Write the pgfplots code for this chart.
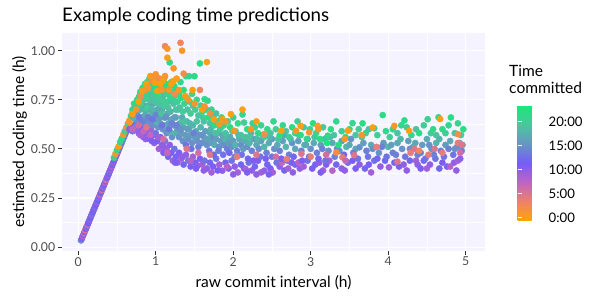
\documentclass[border=0pt]{standalone}
\usepackage{fontspec}
\setmainfont{Lato}
\usepackage{pgfplots}
\pgfplotsset{compat=1.18}
\definecolor{panelbg}{RGB}{245,243,255}
\definecolor{tickc}{RGB}{51,51,51}
\definecolor{ticklab}{RGB}{77,77,77}
\pgfplotsset{
  pts/.style={scatter, only marks, mark=*, mark size=3.1bp,
    scatter src=explicit,
    scatter/use mapped color={draw=mapped color, fill=mapped color}},
}
\begin{document}
\begin{tikzpicture}
\path[use as bounding box] (0,0) rectangle (600bp,300bp);
\begin{axis}[
  at={(62bp,49bp)}, anchor=south west,
  scale only axis, width=423bp, height=218bp,
  xmin=-0.21, xmax=5.25, ymin=-0.02, ymax=1.09,
  axis background/.style={fill=panelbg},
  axis line style={draw=none},
  xtick={0,1,2,3,4,5},
  ytick={0,0.25,0.5,0.75,1},
  yticklabels={0.00,0.25,0.50,0.75,1.00},
  minor xtick={0.5,1.5,2.5,3.5,4.5},
  minor ytick={0.125,0.375,0.625,0.875},
  grid=both,
  major grid style={white, line width=1.1bp},
  minor grid style={white, line width=0.55bp},
  tick align=outside, major tick length=3.67bp, minor tick length=0pt,
  xtick pos=bottom, ytick pos=left,
  major tick style={color=tickc, line width=0.8bp},
  minor tick style={draw=none},
  /pgf/number format/assume math mode=true,
  tick label style={font=\fontsize{12.3}{13}\selectfont, text=ticklab, inner sep=0pt},
  xticklabel style={anchor=north, yshift=-2.3bp},
  yticklabel style={anchor=east, xshift=-3bp},
  colormap={tc}{rgb255=(255,165,0) rgb255=(238,130,105) rgb255=(192,100,195) rgb255=(118,92,248) rgb255=(102,150,195) rgb255=(72,200,155) rgb255=(25,232,120)},
  point meta min=-0.7, point meta max=23.5,
  colorbar,
  colorbar style={
    at={(parent axis.south west)}, anchor=south west,
    xshift=447bp, yshift=30bp,
    scale only axis, width=23bp, height=116bp,
    axis line style={draw=none},
    ytick={0,5,10,15,20},
    yticklabels={0:00,5:00,10:00,15:00,20:00},
    yticklabel pos=right,
    ytick pos=both,
    tick align=inside,
    major tick length=4.6bp,
    major tick style={color=white, line width=0.7bp},
    yticklabel style={font=\fontsize{13.2}{14}\selectfont, text=black, inner sep=0pt, anchor=west, xshift=8bp},
  },
]
% ramp
\addplot[pts] table[meta=c] {
x y c
0.035 0.034 15
0.045 0.042 12
0.052 0.050 10
0.060 0.057 8
0.068 0.064 12
0.075 0.070 6
0.082 0.078 11
0.090 0.085 5
0.098 0.092 12
0.105 0.100 9
0.112 0.106 13
0.120 0.113 6
0.128 0.121 11
0.135 0.128 12
0.142 0.135 10
0.150 0.142 13
0.158 0.150 11
0.165 0.157 12
0.172 0.164 9
0.180 0.171 13
0.188 0.178 12
0.195 0.186 11
0.203 0.193 12
0.210 0.200 10
0.218 0.207 13
0.225 0.214 12
0.233 0.221 11
0.240 0.228 9
0.248 0.235 12
0.256 0.243 11
0.264 0.250 13
0.272 0.258 10
0.280 0.266 6
0.288 0.274 12
0.296 0.281 11
0.304 0.289 6
0.312 0.297 12
0.320 0.304 9
0.328 0.312 13
0.336 0.320 11
0.344 0.327 8
0.352 0.335 12
0.360 0.342 5
0.368 0.350 10
0.376 0.357 12
0.384 0.365 9
0.392 0.372 11
0.400 0.380 13
0.408 0.388 10
0.416 0.395 9
0.424 0.403 12
0.432 0.410 8
0.440 0.418 11
0.448 0.426 13
0.456 0.433 9
0.464 0.441 12
0.472 0.448 10
0.480 0.456 8
0.488 0.464 12
0.496 0.471 14
0.504 0.479 11
0.512 0.486 7
0.520 0.494 12
0.528 0.502 15
0.536 0.509 10
0.544 0.517 13
0.552 0.524 17
0.560 0.532 11
0.568 0.540 14
0.576 0.547 9
0.584 0.555 16
0.592 0.562 12
0.600 0.570 18
0.608 0.578 11
0.616 0.585 15
0.624 0.593 10
0.632 0.600 19
0.640 0.608 13
0.650 0.617 16
0.46 0.455 20
0.48 0.475 1
0.50 0.495 21
0.52 0.512 0
0.54 0.535 20
0.56 0.552 22
0.58 0.572 1
0.60 0.590 20
0.62 0.608 2
0.64 0.628 21
0.66 0.645 0
0.68 0.668 20
0.70 0.685 1
0.72 0.705 21
0.74 0.722 0
0.76 0.742 22
0.78 0.762 1
};
% blue band
\addplot[pts] table[meta=c] {
x y c
0.66 0.60 12
0.68 0.61 10
0.70 0.59 13
0.72 0.62 11
0.74 0.60 9
0.76 0.63 12
0.78 0.58 10
0.80 0.62 13
0.82 0.60 11
0.84 0.56 9
0.86 0.62 12
0.88 0.58 10
0.90 0.61 13
0.92 0.55 11
0.94 0.60 9
0.96 0.57 12
0.98 0.53 10
1.00 0.58 13
1.02 0.54 11
1.04 0.50 9
1.06 0.56 12
1.08 0.52 10
1.10 0.48 11
1.12 0.54 13
1.14 0.50 9
1.16 0.46 12
1.18 0.52 10
1.20 0.48 11
1.22 0.44 9
1.24 0.50 13
1.26 0.46 12
1.28 0.43 10
1.30 0.48 11
1.33 0.45 9
1.36 0.42 12
1.39 0.47 10
1.42 0.44 13
1.45 0.41 11
1.48 0.46 9
1.51 0.43 12
1.54 0.414 10
1.57 0.45 11
1.60 0.42 9
1.63 0.44 13
1.66 0.40 10
1.70 0.43 12
1.74 0.41 11
1.78 0.45 13
1.82 0.42 9
1.86 0.389 10
1.90 0.43 12
1.94 0.40 11
1.98 0.44 13
2.02 0.41 10
2.06 0.38 9
2.10 0.42 12
2.14 0.40 11
2.16 0.397 9
2.20 0.43 13
2.24 0.39 10
2.28 0.41 12
2.32 0.44 11
2.36 0.38 9
2.40 0.389 10
2.44 0.42 12
2.48 0.40 11
2.51 0.38 9
2.56 0.43 13
2.60 0.41 10
2.66 0.39 12
2.71 0.40 9
2.75 0.43 11
2.80 0.42 12
2.86 0.40 10
2.91 0.41 9
2.96 0.44 13
3.02 0.40 11
3.06 0.42 12
3.11 0.43 10
3.16 0.39 9
3.20 0.42 11
3.28 0.389 8
3.33 0.42 12
3.40 0.40 10
3.48 0.43 13
3.54 0.44 11
3.63 0.42 10
3.70 0.40 12
3.75 0.42 11
3.82 0.44 13
3.90 0.41 10
4.01 0.406 9
4.08 0.43 12
4.14 0.41 11
4.20 0.42 10
4.28 0.44 12
4.36 0.44 9
4.38 0.42 10
4.42 0.40 11
4.46 0.44 12
4.54 0.42 10
4.61 0.45 13
4.70 0.43 11
4.76 0.41 12
4.80 0.41 8
4.85 0.43 10
4.90 0.44 9
4.93 0.45 10
0.80 0.57 9
0.87 0.55 10
0.95 0.54 11
1.03 0.56 9
1.10 0.51 10
1.15 0.48 7
1.25 0.43 11
1.35 0.46 10
1.45 0.44 8
1.52 0.40 11
1.62 0.39 10
1.72 0.38 9
1.80 0.39 11
1.92 0.41 8
2.00 0.37 10
2.18 0.38 11
2.30 0.37 10
2.46 0.37 11
2.63 0.43 7
2.77 0.38 10
2.84 0.43 8
3.13 0.38 11
3.24 0.44 9
3.44 0.39 10
3.58 0.40 11
3.78 0.38 9
3.96 0.44 12
4.24 0.39 10
4.50 0.40 9
4.66 0.40 12
4.88 0.39 10
};
% teal band
\addplot[pts] table[meta=c] {
x y c
0.74 0.65 16
0.76 0.68 17
0.78 0.64 15
0.80 0.70 18
0.82 0.66 16
0.84 0.72 17
0.85 0.63 15
0.87 0.69 18
0.88 0.66 16
0.90 0.72 17
0.91 0.64 15
0.93 0.70 16
0.94 0.67 18
0.96 0.62 15
0.97 0.73 17
0.99 0.68 16
1.00 0.64 18
1.02 0.70 17
1.03 0.61 15
1.05 0.67 16
1.06 0.63 18
1.08 0.70 17
1.09 0.60 15
1.11 0.66 16
1.12 0.62 18
1.14 0.58 15
1.15 0.68 17
1.17 0.63 16
1.18 0.59 18
1.20 0.65 17
1.21 0.56 15
1.23 0.62 16
1.25 0.58 18
1.26 0.66 17
1.28 0.60 16
1.30 0.56 15
1.31 0.63 18
1.33 0.58 16
1.35 0.54 15
1.36 0.61 17
1.38 0.57 16
1.40 0.64 18
1.42 0.55 15
1.43 0.60 17
1.45 0.57 16
1.47 0.53 15
1.48 0.62 18
1.50 0.56 16
1.52 0.59 17
1.54 0.54 15
1.56 0.57 16
1.58 0.61 18
1.60 0.53 15
1.62 0.56 17
1.64 0.59 16
1.66 0.52 15
1.68 0.55 18
1.70 0.58 17
1.72 0.53 16
1.74 0.56 15
1.76 0.52 17
1.78 0.55 16
1.80 0.58 18
1.82 0.51 15
1.84 0.54 16
1.86 0.57 17
1.88 0.52 15
1.90 0.55 18
1.92 0.50 14
1.94 0.53 16
1.96 0.56 17
1.98 0.51 15
2.00 0.54 16
2.03 0.52 18
2.05 0.49 14
2.08 0.55 17
2.10 0.52 15
2.13 0.50 16
2.15 0.54 17
2.18 0.51 15
2.21 0.53 18
2.24 0.49 14
2.27 0.55 16
2.30 0.52 17
2.33 0.50 15
2.36 0.54 16
2.40 0.51 18
2.43 0.48 14
2.46 0.53 17
2.50 0.55 16
2.53 0.50 15
2.57 0.52 17
2.60 0.49 14
2.64 0.54 16
2.68 0.51 18
2.72 0.47 14
2.76 0.53 15
2.80 0.50 17
2.84 0.54 16
2.88 0.49 14
2.92 0.52 18
2.96 0.55 16
3.00 0.50 15
3.04 0.53 17
3.08 0.48 14
3.13 0.52 16
3.18 0.55 18
3.23 0.49 15
3.28 0.53 17
3.34 0.50 14
3.40 0.54 16
3.46 0.51 18
3.52 0.55 15
3.58 0.50 17
3.63 0.508 15
3.68 0.53 16
3.72 0.49 14
3.78 0.52 17
3.88 0.48 15
3.94 0.53 16
4.00 0.51 18
4.06 0.48 14
4.12 0.53 17
4.18 0.50 15
4.26 0.54 16
4.32 0.51 18
4.38 0.47 14
4.44 0.52 16
4.50 0.55 17
4.56 0.50 15
4.62 0.53 18
4.68 0.49 14
4.74 0.52 16
4.80 0.54 17
4.86 0.50 15
4.92 0.53 16
4.96 0.52 17
0.71 0.66 18
0.73 0.68 15
0.75 0.62 14
0.77 0.71 19
0.79 0.66 13
0.81 0.73 20
0.83 0.64 14
0.85 0.75 19
0.86 0.67 17
0.89 0.71 20
0.90 0.66 14
0.92 0.75 19
0.95 0.70 18
0.96 0.65 13
0.98 0.76 20
1.01 0.67 14
1.03 0.73 19
1.04 0.65 16
1.07 0.68 19
1.08 0.62 13
1.10 0.72 20
1.13 0.66 15
1.16 0.74 19
1.17 0.60 13
1.19 0.69 18
1.21 0.63 14
1.22 0.75 20
1.24 0.66 16
1.27 0.62 14
1.29 0.70 19
1.32 0.60 15
1.34 0.66 17
1.37 0.64 19
1.39 0.52 13
1.41 0.60 16
1.44 0.63 18
1.46 0.50 13
1.49 0.58 14
1.53 0.64 19
1.55 0.51 14
1.59 0.57 15
1.61 0.66 20
1.65 0.55 16
1.69 0.49 13
1.71 0.60 18
1.75 0.47 12
1.77 0.58 19
1.81 0.49 14
1.84 0.61 20
1.87 0.47 13
1.91 0.57 18
1.95 0.48 12
1.99 0.59 19
2.02 0.46 14
2.07 0.57 18
2.11 0.47 13
2.16 0.56 19
2.19 0.45 12
2.23 0.58 18
2.26 0.44 11
2.31 0.55 18
2.35 0.46 13
2.38 0.57 19
2.42 0.45 11
2.47 0.56 18
2.50 0.46 13
2.58 0.55 19
2.62 0.45 12
2.66 0.57 17
2.70 0.44 13
2.74 0.55 18
2.78 0.46 12
2.85 0.57 19
2.89 0.44 11
2.94 0.52 17
2.98 0.46 13
3.05 0.56 19
3.10 0.45 12
3.15 0.50 14
3.19 0.44 13
3.25 0.56 18
3.31 0.46 14
3.37 0.49 15
3.43 0.47 12
3.50 0.52 17
3.55 0.48 14
3.61 0.45 13
3.66 0.56 19
3.74 0.46 13
3.80 0.50 15
3.86 0.45 12
3.92 0.51 14
3.98 0.46 13
4.04 0.52 16
4.10 0.47 14
4.16 0.55 18
4.22 0.46 13
4.28 0.50 15
4.35 0.53 17
4.42 0.48 14
4.48 0.45 13
4.53 0.52 15
4.59 0.47 14
4.66 0.55 18
4.72 0.46 13
4.78 0.50 14
4.84 0.47 13
4.89 0.51 15
4.95 0.49 14
};
% pink
\addplot[pts] table[meta=c] {
x y c
0.70 0.60 7
0.78 0.62 6
0.84 0.59 7
0.88 0.61 5
0.93 0.57 7
1.10 0.55 6
1.40 0.50 5
1.55 0.48 6
1.70 0.47 5
2.05 0.46 4
2.30 0.47 5
2.55 0.46 6
2.69 0.448 4
2.88 0.475 5
3.00 0.46 4
3.20 0.47 6
3.41 0.457 4
3.45 0.44 7
3.56 0.468 5
3.85 0.51 4
4.12 0.435 5
4.29 0.48 4
4.34 0.50 5
4.40 0.49 3
4.52 0.47 4
4.60 0.50 5
4.70 0.48 4
4.90 0.53 4
4.95 0.52 5
4.93 0.48 6
};
% green band
\addplot[pts] table[meta=c] {
x y c
0.70 0.70 20
0.72 0.73 22
0.74 0.71 19
0.76 0.75 21
0.78 0.73 20
0.79 0.77 22
0.80 0.79 21
0.82 0.76 19
0.83 0.81 22
0.84 0.78 20
0.86 0.83 21
0.87 0.80 23
0.88 0.76 20
0.89 0.84 22
0.90 0.82 19
0.91 0.78 21
0.92 0.86 22
0.93 0.80 20
0.94 0.84 23
0.95 0.77 19
0.96 0.82 21
0.97 0.85 22
0.98 0.79 20
0.99 0.74 19
1.00 0.82 22
1.01 0.78 21
1.02 0.85 23
1.03 0.76 20
1.04 0.81 22
1.05 0.73 19
1.06 0.84 21
1.07 0.79 23
1.08 0.75 20
1.09 0.82 22
1.10 0.77 19
1.11 0.86 22
1.12 0.80 21
1.13 0.74 20
1.14 0.83 23
1.15 0.78 20
1.16 0.71 19
1.17 0.81 22
1.18 0.94 22
1.19 0.76 21
1.20 0.84 23
1.22 0.79 20
1.23 0.73 19
1.24 0.82 22
1.25 0.77 21
1.26 0.70 19
1.27 0.80 23
1.28 0.74 20
1.30 0.78 22
1.31 0.71 19
1.32 0.84 21
1.33 0.76 22
1.35 0.69 20
1.36 0.80 23
1.37 0.73 21
1.39 0.87 22
1.40 0.76 20
1.41 0.70 19
1.43 0.87 21
1.44 0.74 22
1.45 0.68 20
1.47 0.78 21
1.48 0.72 19
1.50 0.87 22
1.51 0.70 20
1.53 0.75 21
1.55 0.67 19
1.57 0.935 22
1.58 0.72 20
1.60 0.69 21
1.62 0.64 19
1.63 0.753 22
1.65 0.70 20
1.67 0.745 21
1.68 0.66 22
1.70 0.63 19
1.72 0.70 21
1.74 0.66 20
1.76 0.62 22
1.78 0.68 19
1.80 0.64 21
1.83 0.60 20
1.85 0.66 22
1.88 0.62 21
1.90 0.58 19
1.93 0.64 20
1.96 0.61 22
2.00 0.66 21
2.03 0.59 20
2.06 0.63 22
2.10 0.57 19
2.12 0.675 21
2.14 0.634 20
2.18 0.60 22
2.21 0.56 19
2.25 0.63 21
2.28 0.61 20
2.32 0.58 22
2.36 0.62 21
2.40 0.56 20
2.44 0.60 22
2.48 0.58 19
2.52 0.64 21
2.55 0.60 20
2.60 0.57 22
2.64 0.62 21
2.68 0.59 19
2.72 0.56 20
2.76 0.61 22
2.80 0.58 21
2.83 0.64 20
2.87 0.57 22
2.91 0.61 19
2.95 0.55 21
2.99 0.60 20
3.03 0.63 22
3.07 0.58 21
3.12 0.55 23
3.16 0.61 20
3.22 0.567 21
3.21 0.53 23
3.26 0.60 22
3.30 0.57 19
3.33 0.64 21
3.36 0.52 22
3.40 0.59 20
3.45 0.56 21
3.50 0.60 22
3.54 0.631 21
3.58 0.57 19
3.62 0.60 20
3.67 0.63 22
3.71 0.58 21
3.75 0.60 19
3.82 0.605 21
3.86 0.57 20
3.93 0.672 22
3.97 0.59 21
4.02 0.56 20
4.06 0.60 22
4.12 0.58 19
4.17 0.62 21
4.21 0.645 22
4.24 0.61 20
4.30 0.57 21
4.36 0.60 19
4.40 0.58 22
4.46 0.62 20
4.51 0.651 21
4.55 0.58 20
4.58 0.60 22
4.62 0.57 19
4.65 0.661 21
4.70 0.60 22
4.74 0.58 20
4.78 0.62 21
4.81 0.66 22
4.86 0.58 19
4.90 0.63 21
4.94 0.57 20
4.97 0.60 22
};
% orange
\addplot[pts] table[meta=c] {
x y c
0.66 0.634 1
0.70 0.677 0
0.745 0.70 1
0.78 0.74 0
0.81 0.77 2
0.83 0.795 0
0.86 0.80 1
0.88 0.83 0
0.90 0.81 1
0.93 0.871 0
0.95 0.85 2
0.97 0.87 1
0.99 0.837 0
1.00 0.88 1
1.02 0.795 0
1.04 0.86 2
1.06 0.83 0
1.08 0.80 1
1.10 0.85 0
1.12 0.871 1
1.12 1.023 3
1.15 1.01 1
1.15 0.964 0
1.17 0.80 1
1.20 0.83 0
1.23 0.91 1
1.23 0.846 0
1.25 0.78 2
1.27 0.858 0
1.30 0.80 1
1.32 1.04 3
1.34 1.00 1
1.36 0.883 2
1.38 0.77 0
1.42 0.75 1
1.476 0.80 0
1.50 0.73 1
1.57 0.80 3
1.60 0.70 0
1.63 0.716 1
1.66 0.942 0
1.70 0.68 2
1.75 0.65 0
1.82 0.626 1
1.86 0.651 0
1.90 0.64 1
1.97 0.677 0
2.01 0.592 1
2.12 0.70 0
2.23 0.60 1
2.30 0.64 0
2.40 0.575 2
2.62 0.592 0
2.81 0.592 1
2.87 0.617 0
2.98 0.584 1
3.09 0.617 0
3.10 0.60 1
3.33 0.482 2
3.44 0.55 1
3.48 0.592 0
3.66 0.57 1
3.80 0.609 0
4.08 0.617 1
4.27 0.592 0
4.67 0.652 0
4.90 0.575 2
};
\end{axis}
\node[anchor=base west, inner sep=0pt, font=\fontsize{18.8}{19}\selectfont] at (62bp,278bp) {Example coding time predictions};
\node[anchor=base, inner sep=0pt, font=\fontsize{15.6}{16}\selectfont] at (273.5bp,13bp) {raw commit interval (h)};
\node[anchor=base, rotate=90, inner sep=0pt, font=\fontsize{15.6}{16}\selectfont] at (24bp,158bp) {estimated coding time (h)};
\node[anchor=base west, inner sep=0pt, font=\fontsize{15.6}{16}\selectfont] at (509bp,223bp) {Time};
\node[anchor=base west, inner sep=0pt, font=\fontsize{15.6}{16}\selectfont] at (509bp,206bp) {committed};
\end{tikzpicture}
\end{document}
